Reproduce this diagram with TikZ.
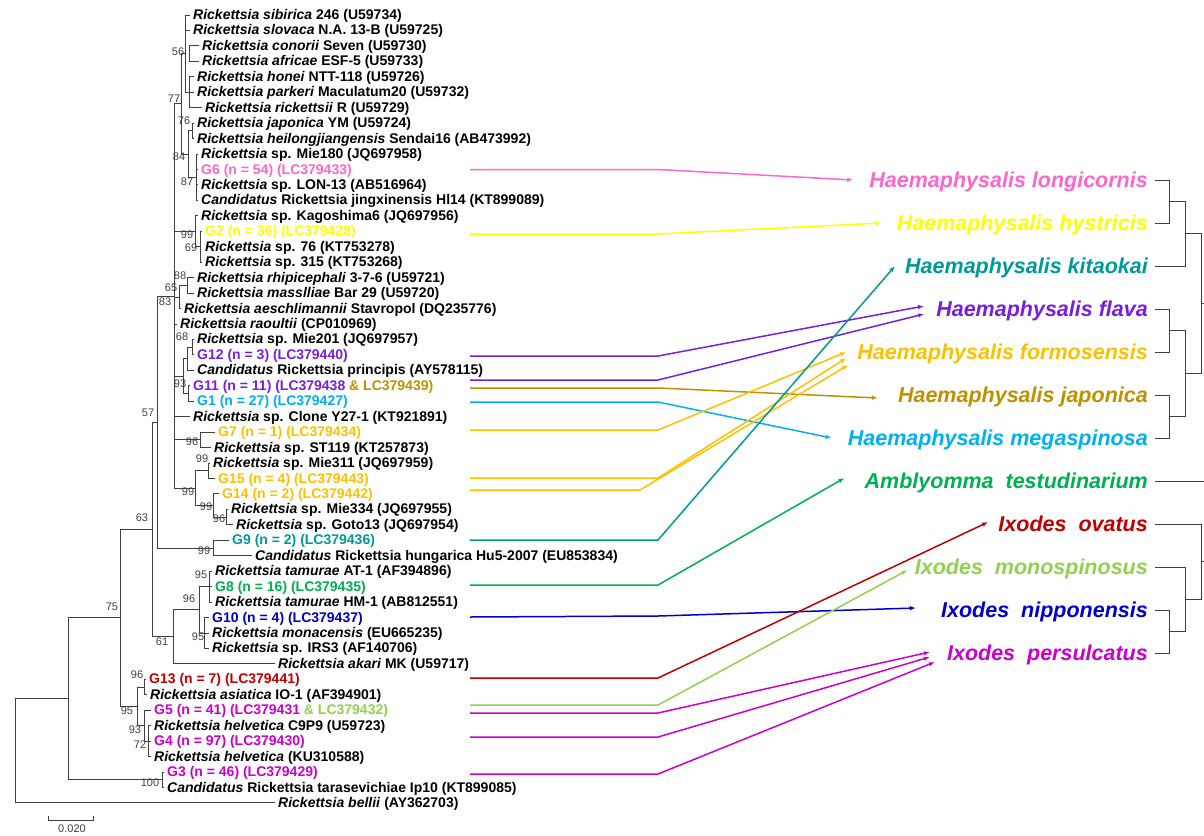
\documentclass[tikz,border=0pt]{standalone}
\usepackage{fontspec}
\setmainfont{Liberation Sans}
\usetikzlibrary{arrows.meta}

\definecolor{pinkc}{RGB}{255,102,204}
\definecolor{yellowc}{RGB}{255,255,0}
\definecolor{tealc}{RGB}{0,153,153}
\definecolor{purplec}{RGB}{120,30,220}
\definecolor{orangec}{RGB}{255,192,0}
\definecolor{brownc}{RGB}{191,144,0}
\definecolor{skyc}{RGB}{0,176,240}
\definecolor{greenc}{RGB}{0,176,80}
\definecolor{redc}{RGB}{192,0,0}
\definecolor{limec}{RGB}{146,208,80}
\definecolor{navyc}{RGB}{0,0,204}
\definecolor{magc}{RGB}{204,0,204}
\definecolor{treec}{RGB}{64,64,64}

\begin{document}
\begin{tikzpicture}[x=1pt, y=-1pt,
    tree/.style={treec, line width=1pt},
    leaf/.style={anchor=west, inner sep=0pt, text height=11pt, text depth=2pt,
                 font=\fontsize{14}{16}\selectfont\bfseries},
    host/.style={anchor=east, inner sep=0pt, text height=17pt, text depth=2pt,
                 font=\fontsize{21.5}{24}\selectfont\bfseries\itshape},
    bs/.style={inner sep=0pt, text=treec, font=\fontsize{11}{11}\selectfont},
    conn/.style={line width=1.5pt, -{Latex[length=6pt,width=4.5pt]}}]

    \useasboundingbox (0,0) rectangle (1204,835);

    %% Rickettsia tree, leaves
    \node[leaf] (sibirica) at (193,15) {\textit{Rickettsia sibirica} 246 (U59734)};
    \node[leaf] (slovaca) at (193,30.45) {\textit{Rickettsia slovaca} N.A. 13-B (U59725)};
    \node[leaf] (conorii) at (202,45.9) {\textit{Rickettsia conorii} Seven (U59730)};
    \node[leaf] (africae) at (202,61.35) {\textit{Rickettsia africae} ESF-5 (U59733)};
    \node[leaf] (honei) at (197,76.8) {\textit{Rickettsia honei} NTT-118 (U59726)};
    \node[leaf] (parkeri) at (197,92.25) {\textit{Rickettsia parkeri} Maculatum20 (U59732)};
    \node[leaf] (rickettsii) at (205,107.7) {\textit{Rickettsia rickettsii} R (U59729)};
    \node[leaf] (japonica) at (197,123.15) {\textit{Rickettsia japonica} YM (U59724)};
    \node[leaf] (heilong) at (197,138.6) {\textit{Rickettsia heilongjiangensis} Sendai16 (AB473992)};
    \node[leaf] (mie180) at (201,154.05) {\textit{Rickettsia} sp. Mie180 (JQ697958)};
    \node[leaf, pinkc] (g6) at (201,169.5) {G6 (n = 54) (LC379433)};
    \node[leaf] (lon13) at (201,184.95) {\textit{Rickettsia} sp. LON-13 (AB516964)};
    \node[leaf] (jingxin) at (201,200.4) {\textit{Candidatus} Rickettsia jingxinensis Hl14 (KT899089)};
    \node[leaf] (kagoshima) at (201,215.85) {\textit{Rickettsia} sp. Kagoshima6 (JQ697956)};
    \node[leaf, yellowc] (g2) at (205,231.3) {G2 (n = 36) (LC379428)};
    \node[leaf] (sp76) at (205,246.75) {\textit{Rickettsia} sp. 76 (KT753278)};
    \node[leaf] (sp315) at (205,262.2) {\textit{Rickettsia} sp. 315 (KT753268)};
    \node[leaf] (rhipi) at (197,277.65) {\textit{Rickettsia rhipicephali} 3-7-6 (U59721)};
    \node[leaf] (massil) at (197,293.1) {\textit{Rickettsia masslliae} Bar 29 (U59720)};
    \node[leaf] (aeschl) at (184,308.55) {\textit{Rickettsia aeschlimannii} Stavropol (DQ235776)};
    \node[leaf] (raoultii) at (180,324) {\textit{Rickettsia raoultii} (CP010969)};
    \node[leaf] (mie201) at (197,339.45) {\textit{Rickettsia} sp. Mie201 (JQ697957)};
    \node[leaf, purplec] (g12) at (197,354.9) {G12 (n = 3) (LC379440)};
    \node[leaf] (principis) at (197,370.35) {\textit{Candidatus} Rickettsia principis (AY578115)};
    \node[leaf, purplec] (g11) at (193,385.8) {G11 (n = 11) (LC379438 \textcolor{brownc}{\& LC379439)}};
    \node[leaf, skyc] (g1) at (197,401.25) {G1 (n = 27) (LC379427)};
    \node[leaf] (y27) at (193,416.7) {\textit{Rickettsia} sp. Clone Y27-1 (KT921891)};
    \node[leaf, orangec] (g7) at (218,432.15) {G7 (n = 1) (LC379434)};
    \node[leaf] (st119) at (214,447.6) {\textit{Rickettsia} sp. ST119 (KT257873)};
    \node[leaf] (mie311) at (213,463.05) {\textit{Rickettsia} sp. Mie311 (JQ697959)};
    \node[leaf, orangec] (g15) at (218,478.5) {G15 (n = 4) (LC379443)};
    \node[leaf, orangec] (g14) at (222,493.95) {G14 (n = 2) (LC379442)};
    \node[leaf] (mie334) at (231,509.4) {\textit{Rickettsia} sp. Mie334 (JQ697955)};
    \node[leaf] (goto13) at (236,524.85) {\textit{Rickettsia} sp. Goto13 (JQ697954)};
    \node[leaf, tealc] (g9) at (232,540.3) {G9 (n = 2) (LC379436)};
    \node[leaf] (hungarica) at (255,555.75) {\textit{Candidatus} Rickettsia hungarica Hu5-2007 (EU853834)};
    \node[leaf] (at1) at (215,571.2) {\textit{Rickettsia tamurae} AT-1 (AF394896)};
    \node[leaf, greenc] (g8) at (215,586.65) {G8 (n = 16) (LC379435)};
    \node[leaf] (hm1) at (215,602.1) {\textit{Rickettsia tamurae} HM-1 (AB812551)};
    \node[leaf, navyc] (g10) at (212,617.55) {G10 (n = 4) (LC379437)};
    \node[leaf] (monac) at (212,633) {\textit{Rickettsia monacensis} (EU665235)};
    \node[leaf] (irs3) at (212,648.45) {\textit{Rickettsia} sp. IRS3 (AF140706)};
    \node[leaf] (akari) at (278,663.9) {\textit{Rickettsia akari} MK (U59717)};
    \node[leaf, redc] (g13) at (149,679.35) {G13 (n = 7) (LC379441)};
    \node[leaf] (asiatica) at (150,694.8) {\textit{Rickettsia asiatica} IO-1 (AF394901)};
    \node[leaf, magc] (g5) at (154,710.25) {G5 (n = 41) (LC379431 \textcolor{limec}{\& LC379432)}};
    \node[leaf] (c9p9) at (154,725.7) {\textit{Rickettsia helvetica} C9P9 (U59723)};
    \node[leaf, magc] (g4) at (154,741.15) {G4 (n = 97) (LC379430)};
    \node[leaf] (ku) at (154,756.6) {\textit{Rickettsia helvetica} (KU310588)};
    \node[leaf, magc] (g3) at (167,772.05) {G3 (n = 46) (LC379429)};
    \node[leaf] (tarasev) at (167,787.5) {\textit{Candidatus} Rickettsia tarasevichiae Ip10 (KT899085)};
    \node[leaf] (bellii) at (278,802.95) {\textit{Rickettsia bellii} (AY362703)};

    %% Rickettsia tree, branches
    % spotted fever group, top
    \draw[tree] (190,15) -| (185,92.25) -- (189,92.25);
    \draw[tree] (185,30.45) -- (190,30.45);
    \draw[tree] (199,45.9) -| (189,61.35) -- (199,61.35);
    \draw[tree] (194,76.8) -| (189,107.7) -- (202,107.7);
    \draw[tree] (189,92.25) -- (194,92.25);
    \draw[tree] (194,123.15) -| (192,138.6) -- (194,138.6);
    \draw[tree] (198,154.05) -| (196,200.4) -- (198,200.4);
    \draw[tree] (196,169.5) -- (198,169.5);
    \draw[tree] (196,184.95) -- (198,184.95);
    \draw[tree] (192,130.9) -| (188,177.2) -- (196,177.2);
    \draw[tree] (185,53.6) -| (181,154) -- (188,154);
    \draw[tree] (198,215.85) -| (195,246.75) -- (200,246.75);
    \draw[tree] (202,231.3) -| (200,262.2) -- (202,262.2);
    \draw[tree] (194,277.65) -| (187,293.1) -- (194,293.1);
    \draw[tree] (187,285.4) -| (179,308.55) -- (181,308.55);
    \draw[tree] (194,339.45) -| (192,354.9) -- (194,354.9);
    \draw[tree] (192,347.2) -| (187,370.35) -- (194,370.35);
    \draw[tree] (190,385.8) -| (188,401.25) -- (194,401.25);
    \draw[tree] (187,358.8) -| (183,393.5) -- (188,393.5);
    \draw[tree] (215,432.15) -| (200,447.6) -- (211,447.6);
    \draw[tree] (210,463.05) -| (208,478.5) -- (215,478.5);
    \draw[tree] (228,509.4) -| (226,524.85) -- (233,524.85);
    \draw[tree] (219,493.95) -| (213,517.1) -- (226,517.1);
    \draw[tree] (208,470.8) -| (195,505.5) -- (213,505.5);
    \draw[tree] (181,103.8) -| (174,488.2) -- (195,488.2);
    \draw[tree] (174,231.3) -- (195,231.3);
    \draw[tree] (174,297) -- (179,297);
    \draw[tree] (174,324) -- (177,324);
    \draw[tree] (174,376) -- (183,376);
    \draw[tree] (174,416.7) -- (190,416.7);
    \draw[tree] (174,439.9) -- (200,439.9);
    \draw[tree] (229,540.3) -| (213,555.75) -- (252,555.75);
    \draw[tree] (174,296) -| (157,548) -- (213,548);
    % tamurae, monacensis, akari
    \draw[tree] (212,571.2) -| (209,602.1) -- (212,602.1);
    \draw[tree] (209,586.65) -- (212,586.65);
    \draw[tree] (209,617.55) -| (204,648.45) -- (209,648.45);
    \draw[tree] (204,633) -- (209,633);
    \draw[tree] (209,586.65) -| (199,633) -- (204,633);
    \draw[tree] (199,609.8) -| (173,663.9) -- (275,663.9);
    \draw[tree] (157,422) -| (152,636.9) -- (173,636.9);
    % helvetica group
    \draw[tree] (146,679.35) -| (144,694.8) -- (147,694.8);
    \draw[tree] (151,725.7) -| (148,756.6) -- (151,756.6);
    \draw[tree] (148,741.15) -- (151,741.15);
    \draw[tree] (151,710.25) -| (144,741.15) -- (148,741.15);
    \draw[tree] (144,687) -| (137,725.7) -- (144,725.7);
    \draw[tree] (152,529.4) -| (120,706.4) -- (137,706.4);
    \draw[tree] (164,772.05) -| (162,787.5) -- (164,787.5);
    \draw[tree] (120,617.9) -| (68,779.8) -- (162,779.8);
    % root
    \draw[tree] (68,698.8) -| (15,802.95) -- (275,802.95);

    % bootstrap values
    \node[bs] (b56) at (178,52) {56};
    \node[bs] (b77) at (174,99) {77};
    \node[bs] (b76) at (184,121) {76};
    \node[bs] (b84) at (179,157) {84};
    \node[bs] (b87) at (187,182) {87};
    \node[bs] (b99a) at (187,235) {99};
    \node[bs] (b69) at (191,248) {69};
    \node[bs] (b88) at (180,276) {88};
    \node[bs] (b65) at (171,288) {65};
    \node[bs] (b83) at (165,302) {83};
    \node[bs] (b68) at (182,337) {68};
    \node[bs] (b93a) at (180,384) {93};
    \node[bs] (b57) at (148,413) {57};
    \node[bs] (b96a) at (192,442) {96};
    \node[bs] (b99b) at (202,459) {99};
    \node[bs] (b99c) at (188,492) {99};
    \node[bs] (b99d) at (206,507) {99};
    \node[bs] (b96b) at (219,519) {96};
    \node[bs] (b63) at (142,518) {63};
    \node[bs] (b99e) at (204,551) {99};
    \node[bs] (b95a) at (201,575) {95};
    \node[bs] (b96c) at (189,599) {96};
    \node[bs] (b75) at (112,607) {75};
    \node[bs] (b95b) at (198,637) {95};
    \node[bs] (b61) at (162,642) {61};
    \node[bs] (b96d) at (137,675) {96};
    \node[bs] (b95c) at (127,711) {95};
    \node[bs] (b93b) at (135,730) {93};
    \node[bs] (b72) at (140,745) {72};
    \node[bs] (b100) at (150,783) {100};

    % scale bar
    \draw[tree] (48,816) -- (48,820) -- (93,820) -- (93,816);
    \node[bs] (scale) at (72,829) {0.020};

    %% Tick hosts
    \node[host, pinkc] (hlong) at (1148,180) {Haemaphysalis longicornis};
    \node[host, yellowc] (hhyst) at (1148,223) {Haemaphysalis hystricis};
    \node[host, tealc] (hkita) at (1148,266) {Haemaphysalis kitaokai};
    \node[host, purplec] (hflava) at (1148,309) {Haemaphysalis flava};
    \node[host, orangec] (hformo) at (1148,352) {Haemaphysalis formosensis};
    \node[host, brownc] (hjapo) at (1148,395) {Haemaphysalis japonica};
    \node[host, skyc] (hmega) at (1148,438) {Haemaphysalis megaspinosa};
    \node[host, greenc] (atestu) at (1148,481) {Amblyomma~~testudinarium};
    \node[host, redc] (iovatus) at (1148,524) {Ixodes~~ovatus};
    \node[host, limec] (imono) at (1148,567) {Ixodes~~monospinosus};
    \node[host, navyc] (inippo) at (1148,610) {Ixodes~~nipponensis};
    \node[host, magc] (ipersul) at (1148,653) {Ixodes~~persulcatus};

    % host tree
    \draw[tree] (1155,180) -| (1169,223) -- (1155,223);
    \draw[tree] (1169,201.5) -| (1185,266) -- (1155,266);
    \draw[tree] (1155,309) -| (1169,352) -- (1155,352);
    \draw[tree] (1155,395) -| (1169,438) -- (1155,438);
    \draw[tree] (1169,330.5) -| (1185,416.5) -- (1169,416.5);
    \draw[tree] (1185,233.75) -| (1201,373.5) -- (1185,373.5);
    \draw[tree] (1201,303.6) -- (1204,303.6);
    \draw[tree] (1155,481) -- (1204,481);
    \draw[tree] (1155,610) -| (1169,653) -- (1155,653);
    \draw[tree] (1155,567) -| (1185,631.5) -- (1169,631.5);
    \draw[tree] (1155,524) -| (1201,599.25) -- (1185,599.25);
    \draw[tree] (1201,561.6) -- (1204,561.6);

    %% Links from genotypes to hosts
    \coordinate (g6a) at (470,169.5);   \coordinate (g6b) at (658,169.5);
    \coordinate (g2a) at (470,234);     \coordinate (g2b) at (658,234);
    \coordinate (g12a) at (470,356);    \coordinate (g12b) at (658,356);
    \coordinate (g11a) at (470,380);    \coordinate (g11b) at (658,380);
    \coordinate (g11c) at (470,388);    \coordinate (g11d) at (658,388);
    \coordinate (g1a) at (470,402);     \coordinate (g1b) at (658,402);
    \coordinate (g7a) at (470,430);     \coordinate (g7b) at (658,430);
    \coordinate (g15a) at (470,478);    \coordinate (g15b) at (658,478);
    \coordinate (g14a) at (470,490);    \coordinate (g14b) at (640,490);
    \coordinate (g9a) at (470,540);     \coordinate (g9b) at (658,540);
    \coordinate (g8a) at (470,585);     \coordinate (g8b) at (658,585);
    \coordinate (g10a) at (470,617);    \coordinate (g10b) at (658,616);
    \coordinate (g13a) at (470,678);    \coordinate (g13b) at (658,678);
    \coordinate (g5a) at (470,705);     \coordinate (g5b) at (658,705);
    \coordinate (g5c) at (470,713);     \coordinate (g5d) at (658,713);
    \coordinate (g4a) at (470,737);     \coordinate (g4b) at (658,737);
    \coordinate (g3a) at (470,774);     \coordinate (g3b) at (658,774);

    \draw[conn, pinkc] (g6a) -- (g6b) -- ([xshift=-16pt]hlong.west);
    \draw[conn, yellowc] (g2a) -- (g2b) -- ([xshift=-15pt]hhyst.west);
    \draw[conn, purplec] (g12a) -- (g12b) -- ([xshift=-12pt,yshift=3pt]hflava.west);
    \draw[conn, purplec] (g11a) -- (g11b) -- ([xshift=-12pt,yshift=-5pt]hflava.west);
    \draw[conn, brownc] (g11c) -- (g11d) -- ([xshift=-20pt,yshift=-3pt]hjapo.west);
    \draw[conn, skyc] (g1a) -- (g1b) -- ([xshift=-16pt]hmega.west);
    \draw[conn, orangec] (g7a) -- (g7b) -- ([xshift=-11pt]hformo.west);
    \draw[conn, orangec] (g15a) -- (g15b) -- ([xshift=-11pt,yshift=-6pt]hformo.west);
    \draw[conn, orangec] (g14a) -- (g14b) -- ([xshift=-9pt,yshift=-13pt]hformo.west);
    \draw[conn, tealc] (g9a) -- (g9b) -- ([xshift=-10pt]hkita.west);
    \draw[conn, greenc] (g8a) -- (g8b) -- ([xshift=-20pt,yshift=3pt]atestu.west);
    \draw[conn, navyc] (g10a) -- (g10b) -- ([xshift=-25pt,yshift=2pt]inippo.west);
    \draw[conn, redc] (g13a) -- (g13b) -- ([xshift=-10pt,yshift=2pt]iovatus.west);
    \draw[conn, limec] (g5a) -- (g5b) -- ([xshift=-7pt,yshift=-3pt]imono.west);
    \draw[conn, magc] (g5c) -- (g5d) -- ([xshift=-17pt,yshift=1pt]ipersul.west);
    \draw[conn, magc] (g4a) -- (g4b) -- ([xshift=-17pt,yshift=-4pt]ipersul.west);
    \draw[conn, magc] (g3a) -- (g3b) -- ([xshift=-12pt,yshift=-9pt]ipersul.west);

\end{tikzpicture}
\end{document}
